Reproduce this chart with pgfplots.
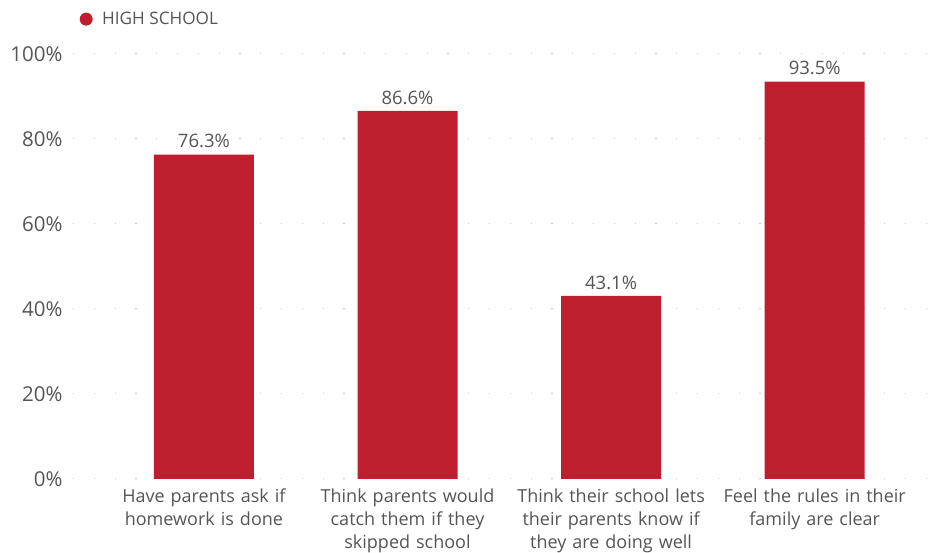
\documentclass[border=0pt]{standalone}
\usepackage{pgfplots}
\pgfplotsset{compat=1.18}
\usepackage{fontspec}
\setmainfont{Open Sans}
\definecolor{barred}{HTML}{BE1E2D}
\definecolor{txt}{HTML}{555555}
\definecolor{gridc}{HTML}{C8C8C8}
\begin{document}
\begin{tikzpicture}
\begin{axis}[
  scale only axis,
  width=872pt, height=425pt,
  xmin=-0.643, xmax=3.64,
  ymin=0, ymax=100,
  axis line style={draw=none},
  ymajorgrids,
  grid style={gridc, line width=1pt, dash pattern=on 1.2pt off 19.6pt},
  ytick={0,20,40,60,80,100},
  yticklabels={0\%,20\%,40\%,60\%,80\%,100\%},
  xtick={0,1,2,3},
  xticklabels={Have parents ask if\\homework is done,
               Think parents would\\catch them if they\\skipped school,
               Think their school lets\\their parents know if\\they are doing well,
               Feel the rules in their\\family are clear},
  tick style={draw=none},
  ticklabel style={font=\fontsize{18}{23}\selectfont, text=txt},
  yticklabel style={font=\fontsize{20.5}{23}\selectfont, xshift=-7pt},
  xticklabel style={align=center, text width=220pt, yshift=-6pt},
  /pgf/number format/assume math mode=true,
  nodes near coords={\pgfmathprintnumber[fixed,precision=1,fixed zerofill]{\pgfplotspointmeta}\%},
  nodes near coords style={font=\fontsize{18.5}{20}\selectfont, text=txt, yshift=3pt},
  legend style={at={(0.0,1.082)}, anchor=west, draw=none, fill=none,
    font=\fontsize{17.2}{20}\selectfont, text=txt, inner sep=0pt},
  legend image code/.code={\fill[barred] (13pt,0) circle (6.5pt); \path (0,0) (27pt,0);},
]
\addplot[ybar, bar width=100pt, fill=barred, draw=none] coordinates {
  (0,76.3) (1,86.6) (2,43.1) (3,93.5)
};
\addlegendentry{HIGH SCHOOL}
\end{axis}
\pgfresetboundingbox
\path ([shift={(-73pt,-74pt)}]current axis.south west) rectangle ([shift={(0pt,54pt)}]current axis.north east);
\end{tikzpicture}
\end{document}
